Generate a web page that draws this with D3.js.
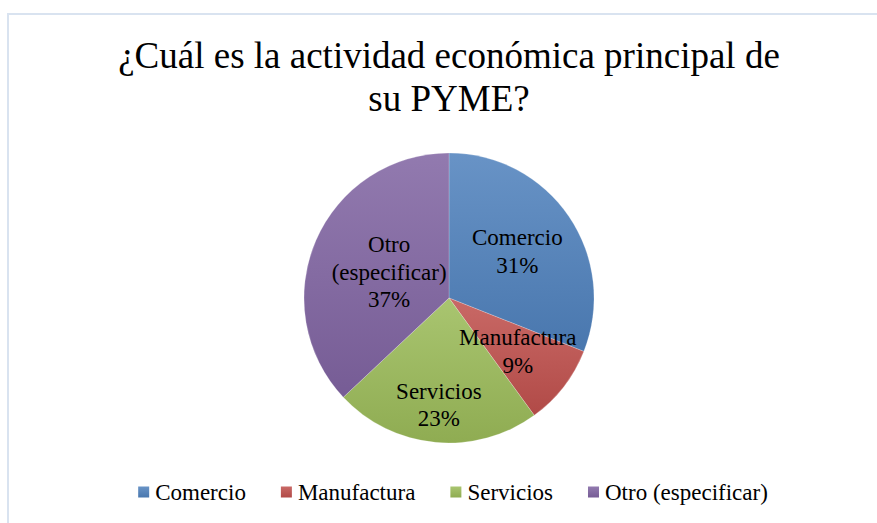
<!DOCTYPE html>
<html>
<head>
<meta charset="utf-8">
<script src="https://cdn.jsdelivr.net/npm/d3@7"></script>
<style>
  body { margin: 0; background: #fff; }
  svg { display: block; }
</style>
</head>
<body>
<script>
// Data
const categories = ['Comercio', 'Manufactura', 'Servicios', 'Otro (especificar)'];
const labelLines = [['Comercio'], ['Manufactura'], ['Servicios'], ['Otro', '(especificar)']];
const values = [31, 9, 23, 37];
const titleLines = ['¿Cuál es la actividad económica principal de', 'su PYME?'];

// Constants
const width = 877;
const height = 523;
const cx = 449;
const cy = 298;
const radius = 145;
const font = '"Liberation Serif", "Times New Roman", serif';
const colors = ['#4f81bd', '#c0504d', '#9bbb59', '#8064a2'];
// how far out (fraction of radius) each data label sits
const labelDist = [0.57, 0.6, 0.74, 0.45];

const svg = d3
	.select('body')
	.append('svg')
	.attr('width', width)
	.attr('height', height);

// chart area border
svg
	.append('rect')
	.attr('x', 8)
	.attr('y', 14)
	.attr('width', width + 10)
	.attr('height', height + 10)
	.attr('fill', '#fff')
	.attr('stroke', '#d9e3f0')
	.attr('stroke-width', 2);

// gradients
const defs = svg.append('defs');
colors.forEach((c, i) => {
	const g = defs
		.append('linearGradient')
		.attr('id', 'grad' + i)
		.attr('x1', 0)
		.attr('y1', 0)
		.attr('x2', 0)
		.attr('y2', 1);
	g.append('stop').attr('offset', '0%').attr('stop-color', d3.interpolateRgb(c, '#fff')(0.14));
	g.append('stop').attr('offset', '100%').attr('stop-color', d3.interpolateRgb(c, '#000')(0.08));
});

// title
svg
	.append('g')
	.attr('font-family', font)
	.attr('font-size', 37)
	.attr('fill', '#000')
	.attr('text-anchor', 'middle')
	.selectAll('text')
	.data(titleLines)
	.join('text')
	.attr('x', cx)
	.attr('y', (d, i) => 68 + i * 43)
	.text((d) => d);

// pie
const pie = d3.pie().sort(null).value((d) => d);
const arcs = pie(values);
const arc = d3.arc().innerRadius(0).outerRadius(radius);

const g = svg.append('g').attr('transform', `translate(${cx},${cy})`);

g.selectAll('path')
	.data(arcs)
	.join('path')
	.attr('d', arc)
	.attr('fill', (d, i) => `url(#grad${i})`)
	.attr('stroke', 'rgba(255,255,255,0.35)')
	.attr('stroke-width', 0.6);

// data labels
const lineH = 27.5;
g.append('g')
	.attr('font-family', font)
	.attr('font-size', 23)
	.attr('fill', '#000')
	.attr('text-anchor', 'middle')
	.selectAll('text')
	.data(arcs)
	.join('text')
	.each(function (d, i) {
		const r = radius * labelDist[i];
		const [x, y] = d3.arc().innerRadius(r).outerRadius(r).centroid(d);
		const lines = labelLines[i].concat([d.value + '%']);
		const t = d3.select(this);
		lines.forEach((s, k) => {
			t.append('tspan')
				.attr('x', x)
				.attr('y', y + (k - (lines.length - 1) / 2) * lineH)
				.attr('dy', '0.33em')
				.text(s);
		});
	});

// legend
const legend = svg
	.append('g')
	.attr('font-family', font)
	.attr('font-size', 23)
	.attr('fill', '#000');

const items = legend
	.selectAll('g')
	.data(categories)
	.join('g');

items
	.append('rect')
	.attr('width', 11)
	.attr('height', 11)
	.attr('y', 486.5)
	.attr('fill', (d, i) => `url(#grad${i})`);

items
	.append('text')
	.attr('x', 17)
	.attr('y', 500)
	.text((d) => d);

const gap = 35;
let widths = [];
items.select('text').each(function () {
	widths.push(this.getComputedTextLength() + 17);
});
const total = d3.sum(widths) + gap * (widths.length - 1);
let xpos = 453 - total / 2;
items.attr('transform', (d, i) => {
	const t = `translate(${xpos},0)`;
	xpos += widths[i] + gap;
	return t;
});
</script>
</body>
</html>
